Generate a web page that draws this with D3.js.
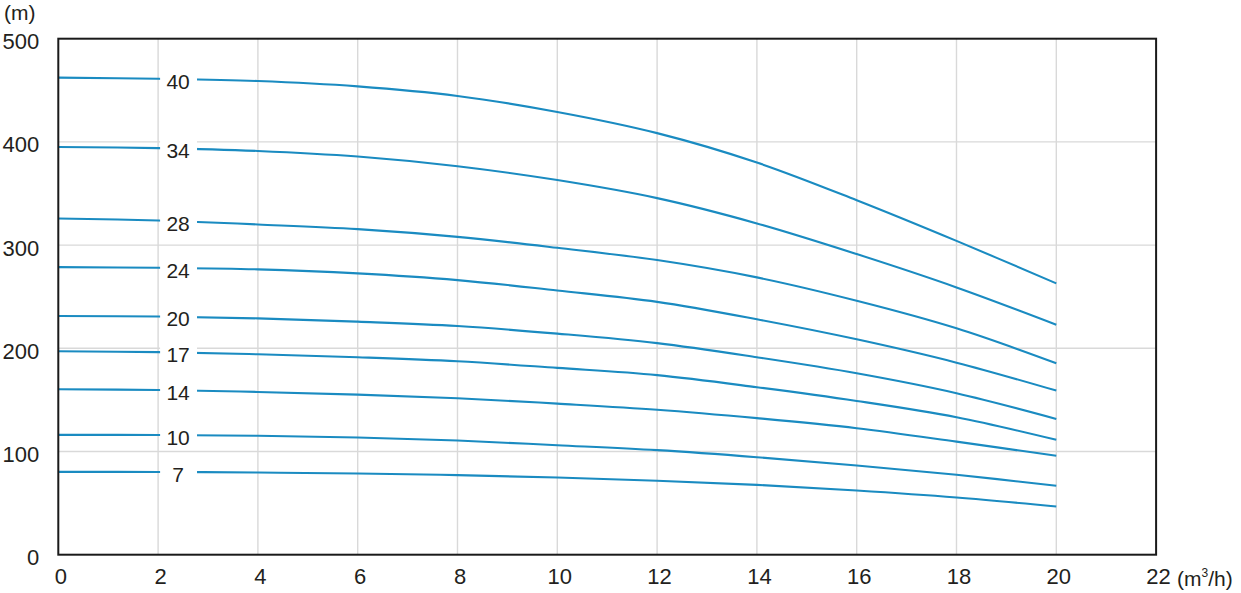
<!DOCTYPE html>
<html>
<head>
<meta charset="utf-8">
<script src="https://cdn.jsdelivr.net/npm/d3@7"></script>
<style>
  html, body { margin: 0; padding: 0; background: #fff; }
  svg { display: block; }
  text { font-family: "Liberation Sans", Arial, Helvetica, sans-serif; fill: #231f20; }
</style>
</head>
<body>
<svg id="chart" width="1241" height="593"></svg>
<script>
// ---- data ----
const flows = [0, 2, 4, 6, 8, 10, 12, 14, 16, 18, 20];           // m³/h
const stageLabels = ["40", "34", "28", "24", "20", "17", "14", "10", "7"];
const head40 = [462.3, 461.2, 459.0, 453.8, 444.5, 429.0, 408.5, 380.0, 343.5, 304.1, 262.9];
const head34 = [395.1, 394.0, 391.2, 385.8, 376.4, 363.0, 345.5, 321.0, 291.3, 259.0, 222.9];
const head28 = [325.8, 323.8, 320.0, 315.5, 308.0, 297.4, 285.5, 268.7, 246.1, 219.4, 185.5];
const head24 = [278.7, 278.0, 276.5, 272.6, 266.1, 256.0, 245.0, 228.1, 208.7, 186.1, 159.0];
const head20 = [231.3, 230.8, 229.0, 225.8, 221.6, 214.2, 205.0, 191.3, 175.8, 156.5, 131.6];
const head17 = [197.1, 196.3, 194.2, 191.3, 187.4, 181.0, 174.0, 162.3, 149.0, 133.2, 111.3];
const head14 = [160.3, 159.6, 157.7, 155.1, 151.6, 146.4, 140.5, 132.3, 122.6, 109.6, 95.8];
const head10 = [116.1, 116.0, 115.2, 113.5, 110.6, 106.1, 101.3, 94.5, 86.4, 77.4, 66.8];
const head7  = [80.3, 80.2, 79.6, 78.7, 77.1, 74.8, 71.7, 67.7, 62.2, 55.4, 46.7];
const xTicks = [0, 2, 4, 6, 8, 10, 12, 14, 16, 18, 20, 22];
const yTicks = [0, 100, 200, 300, 400, 500];
const yUnit = "(m)";

const heads = [head40, head34, head28, head24, head20, head17, head14, head10, head7];
const series = stageLabels.map((s, i) => ({
  label: s,
  points: flows.map((q, j) => ({ q, h: heads[i][j] }))
}));

// ---- layout ----
const svg = d3.select("#chart");
const pLeft = 58.3, pRight = 1156.1, pTop = 38.7, pBottom = 554.7;
const x = d3.scaleLinear().domain([0, 22]).range([pLeft, pRight]);
const y = d3.scaleLinear().domain([0, 500]).range([pBottom, pTop]);

const curveColor = "#1a8bc1";
const gridColor = "#d9d9d9";

// grid
const g = svg.append("g");
g.selectAll("line.vg").data(xTicks.filter(t => t > 0 && t < 22)).enter().append("line")
  .attr("x1", d => x(d)).attr("x2", d => x(d))
  .attr("y1", pTop).attr("y2", pBottom)
  .attr("stroke", gridColor).attr("stroke-width", 1.4);
g.selectAll("line.hg").data(yTicks.filter(t => t > 0 && t < 500)).enter().append("line")
  .attr("x1", pLeft).attr("x2", pRight)
  .attr("y1", d => y(d)).attr("y2", d => y(d))
  .attr("stroke", gridColor).attr("stroke-width", 1.4);

// curves
const line = d3.line().x(d => x(d.q)).y(d => y(d.h)).curve(d3.curveCatmullRom.alpha(0.5));
svg.append("g").selectAll("path").data(series).enter().append("path")
  .attr("d", d => line(d.points))
  .attr("fill", "none")
  .attr("stroke", curveColor)
  .attr("stroke-width", 2.1);

// label gaps + labels
const gapStart = 2.04, gapEnd = 2.78, labelQ = 2.4;
const lab = svg.append("g");
series.forEach(s => {
  const hAt = s.points[1].h + (s.points[2].h - s.points[1].h) * ((labelQ - 2) / 2);
  lab.append("rect")
    .attr("x", x(gapStart)).attr("width", x(gapEnd) - x(gapStart))
    .attr("y", y(hAt) - 12).attr("height", 24)
    .attr("fill", "#fff");
  lab.append("text")
    .attr("x", x(labelQ)).attr("y", y(hAt) + 9.5)
    .attr("text-anchor", "middle")
    .attr("font-size", 21)
    .text(s.label);
});

// frame
svg.append("rect")
  .attr("x", pLeft).attr("y", pTop)
  .attr("width", pRight - pLeft).attr("height", pBottom - pTop)
  .attr("fill", "none").attr("stroke", "#1a1a1a").attr("stroke-width", 2);

// axes (d3 axes, domain/ticks hidden – only labels)
const xAxis = d3.axisBottom(x).tickValues(xTicks).tickSize(0).tickPadding(14).tickFormat(d3.format("d"));
const xa = svg.append("g").attr("transform", `translate(2,${pBottom})`).call(xAxis);
xa.select(".domain").remove();
xa.selectAll("text").attr("font-size", 22).attr("font-family", null).attr("fill", "#231f20");

const yAxis = d3.axisLeft(y).tickValues(yTicks).tickSize(0).tickPadding(19).tickFormat(d3.format("d"));
const ya = svg.append("g").attr("transform", `translate(${pLeft},3)`).call(yAxis);
ya.select(".domain").remove();
ya.selectAll("text").attr("font-size", 22).attr("font-family", null).attr("fill", "#231f20");

// units
const xu = svg.append("text").attr("x", 1177).attr("y", 586).attr("font-size", 21);
xu.append("tspan").text("(m");
xu.append("tspan").attr("font-size", 12).attr("dy", -9).text("3");
xu.append("tspan").attr("dy", 9).text("/h)");

svg.append("text").attr("x", 4).attr("y", 20).attr("font-size", 21).text(yUnit);
</script>
</body>
</html>
